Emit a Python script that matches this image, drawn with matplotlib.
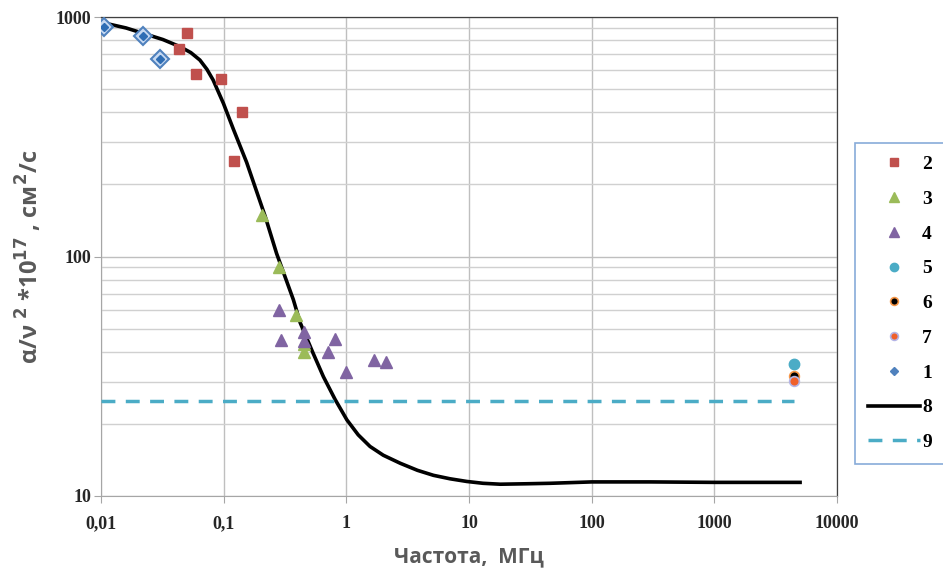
import matplotlib
matplotlib.use("Agg")
import matplotlib.pyplot as plt
from matplotlib.lines import Line2D

# series 1..9, frequency in MHz, value alpha/nu^2 * 1e17
s1_x = [0.0105, 0.022, 0.030]
s1_y = [910, 833, 668]
s2_x = [0.05, 0.043, 0.06, 0.095, 0.142, 0.121]
s2_y = [855, 733, 578, 553, 400, 251]
s3_x = [0.205, 0.28, 0.387, 0.455, 0.455]
s3_y = [149, 90, 57, 40, 43]
s4_x = [0.281, 0.294, 0.45, 0.455, 0.805, 0.71, 1.0, 1.69, 2.11]
s4_y = [60, 45, 48.5, 44.5, 45.3, 40, 32.8, 37, 36.1]
s5_x, s5_y = [4500], [35.5]
s6_x, s6_y = [4500], [31.8]
s7_x, s7_y = [4500], [30.2]
s8_x = [0.0104, 0.016, 0.022, 0.032, 0.044, 0.054, 0.064, 0.073, 0.082, 0.0995,
        0.12, 0.154, 0.218, 0.27, 0.37, 0.42, 0.53, 0.65, 0.81, 1.01, 1.25,
        1.56, 2.0, 2.75, 3.8, 5.13, 7.0, 9.6, 13, 18, 30, 46, 100, 300, 1000, 5000]
s8_y = [946, 900, 855, 805, 752, 710, 661, 605, 546, 436,
        340, 247, 147, 103, 66, 53, 40, 31.5, 25.3, 20.8, 18.0,
        16.1, 14.8, 13.7, 12.8, 12.2, 11.8, 11.5, 11.3, 11.2, 11.25, 11.3, 11.45, 11.45, 11.4, 11.4]
s9_x = [0.01, 4500]
s9_y = [25, 25]

xticks = [0.01, 0.1, 1, 10, 100, 1000, 10000]
xlabels = ["0,01", "0,1", "1", "10", "100", "1000", "10000"]
yticks = [10, 100, 1000]
ylabels = ["10", "100", "1000"]

W, H = 943, 572
fig = plt.figure(figsize=(W / 100, H / 100), dpi=100)
ax = fig.add_axes([101 / W, 1 - 496 / H, (837 - 101) / W, (496 - 17) / H])
ax.set_xscale("log")
ax.set_yscale("log")
ax.set_xlim(0.01, 10000)
ax.set_ylim(10, 1000)

# grid
ax.set_axisbelow(True)
ax.grid(True, which="major", axis="both", color="#bfbfbf", lw=1.0)
ax.grid(True, which="minor", axis="y", color="#d0d0d0", lw=1.0)

ax.plot(s8_x, s8_y, color="black", lw=2.6, label="8", zorder=3)
ax.plot(s9_x, s9_y, color="#4bacc6", lw=2.5, dashes=(4, 3), label="9", zorder=3)

ax.plot(s1_x, s1_y, ls="none", marker="D", ms=9, mfc="#c6d9f1", mec="#4f81bd",
        mew=1.5, zorder=4)
ax.plot(s1_x, s1_y, ls="none", marker="D", ms=4, mfc="#2e6db4", mec="#2e6db4",
        zorder=5)
ax.plot(s2_x, s2_y, ls="none", marker="s", ms=7, color="#c0504d", label="2", zorder=4)
ax.plot(s3_x, s3_y, ls="none", marker="^", ms=8.5, color="#9bbb59", label="3", zorder=4)
ax.plot(s4_x, s4_y, ls="none", marker="^", ms=8.5, color="#8064a2", label="4", zorder=4)
ax.plot(s5_x, s5_y, ls="none", marker="o", ms=7.5, color="#4bacc6", label="5", zorder=4)
ax.plot(s6_x, s6_y, ls="none", marker="o", ms=7, mfc="black", mec="#f79646",
        mew=1.2, label="6", zorder=4)
ax.plot(s7_x, s7_y, ls="none", marker="o", ms=7, mfc="#f0602a", mec="#b4b4e6",
        mew=1.2, label="7", zorder=5)

ax.set_xticks(xticks)
ax.set_xticklabels(xlabels)
ax.set_yticks(yticks)
ax.set_yticklabels(ylabels)
ax.tick_params(axis="x", which="minor", bottom=False)
ax.tick_params(axis="y", which="minor", left=False, labelleft=False)
ax.tick_params(which="major", direction="out", length=5, color="#a6a6a6",
               labelsize=13)
ax.tick_params(axis="x", pad=9)
ax.tick_params(axis="y", pad=2)
for lab in ax.get_xticklabels() + ax.get_yticklabels():
    lab.set_family("Liberation Serif")
    lab.set_fontweight("bold")
    lab.set_color("#262626")

for side in ("left", "bottom"):
    ax.spines[side].set_color("#a6a6a6")
for side in ("top", "right"):
    ax.spines[side].set_color("#404040")
    ax.spines[side].set_linestyle((0, (1, 1)))
    ax.spines[side].set_linewidth(0.9)

ax.set_xlabel("Частота,  МГц", fontsize=15, fontweight="bold", color="#595959",
              family="Open Sans", labelpad=10)
ax.set_ylabel(r"α/ν $^{\mathbf{2}}$ *10$^{\mathbf{17}}$ , см$^{\mathbf{2}}$/с",
              fontsize=17, fontweight="bold", color="#595959", family="Open Sans",
              labelpad=8)

# legend in the order of the original
handles = {h.get_label(): h for h in ax.get_lines()}
h1 = Line2D([], [], ls="none", marker="D", ms=5, color="#4f81bd")
order = ["2", "3", "4", "5", "6", "7"]
hs = [handles[k] for k in order] + [h1, handles["8"], handles["9"]]
labs = order + ["1", "8", "9"]
leg = fig.legend(hs, labs, loc="upper left", bbox_to_anchor=(855 / W, 1 - 143 / H),
                 borderaxespad=0, frameon=True, fancybox=False, handlelength=2.7,
                 handletextpad=0.1, labelspacing=0.88, borderpad=0.65, markerscale=0.8,
                 prop={"family": "Liberation Serif", "weight": "bold", "size": 14})
leg.get_frame().set_edgecolor("#6a96cf")
leg.get_frame().set_linewidth(1.2)

fig.savefig("out.png", dpi=100)
